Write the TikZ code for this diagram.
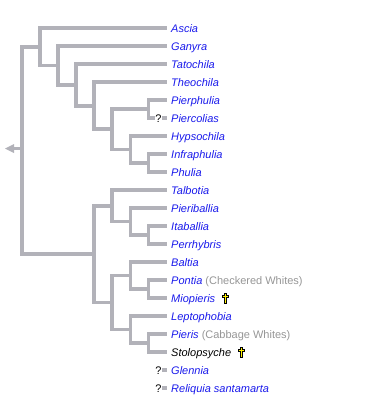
\documentclass[tikz,border=0pt]{standalone}
\usepackage{fontspec}
\setmainfont{Liberation Sans}
\usetikzlibrary{calc}
\definecolor{branch}{RGB}{178,178,185}
\definecolor{taxblue}{RGB}{25,25,235}
\definecolor{note}{RGB}{150,150,150}
\tikzset{
  br/.style={draw=branch, line width=3.8pt},
  leaf/.style={anchor=west, inner xsep=4pt, inner ysep=0pt, text height=8pt, text depth=0pt,
    font=\fontsize{11}{13}\selectfont\itshape, text=taxblue},
  qm/.style={inner xsep=0.6pt, inner ysep=0pt, text height=8pt, text depth=0pt,
    font=\fontsize{11}{13}\selectfont},
  extinct/.pic={\draw[fill=yellow, line width=0.5pt] (-0.9,-4.6) -- (0.9,-4.6) -- (0.9,-2.6) -- (2.8,-2.6) -- (2.8,-0.9) -- (0.9,-0.9) -- (0.9,5) -- (-0.9,5) -- (-0.9,-0.9) -- (-2.8,-0.9) -- (-2.8,-2.6) -- (-0.9,-2.6) -- cycle;}
}
\begin{document}
\begin{tikzpicture}[x=1pt,y=-1pt]
\useasboundingbox (0,0) rectangle (375,399);
% leaves
\node[leaf] (Ascia) at (167,28) {Ascia};
\node[leaf] (Ganyra) at (167,46) {Ganyra};
\node[leaf] (Tatochila) at (167,64) {Tatochila};
\node[leaf] (Theochila) at (167,82) {Theochila};
\node[leaf] (Pierphulia) at (167,100) {Pierphulia};
\node[leaf] (Piercolias) at (167,118) {Piercolias};
\node[qm] (q1) at (158.5,118) {?};
\node[leaf] (Hypsochila) at (167,136) {Hypsochila};
\node[leaf] (Infraphulia) at (167,154) {Infraphulia};
\node[leaf] (Phulia) at (167,172) {Phulia};
\node[leaf] (Talbotia) at (167,190) {Talbotia};
\node[leaf] (Pieriballia) at (167,208) {Pieriballia};
\node[leaf] (Itaballia) at (167,226) {Itaballia};
\node[leaf] (Perrhybris) at (167,244) {Perrhybris};
\node[leaf] (Baltia) at (167,262) {Baltia};
\node[leaf] (Pontia) at (167,280) {Pontia {\upshape\color{note} (Checkered Whites)}};
\node[leaf] (Miopieris) at (167,298) {Miopieris};
\node[leaf] (Leptophobia) at (167,316) {Leptophobia};
\node[leaf] (Pieris) at (167,334) {Pieris {\upshape\color{note} (Cabbage Whites)}};
\node[leaf, text=black] (Stolopsyche) at (167,352) {Stolopsyche};
\node[leaf] (Glennia) at (167,370) {Glennia};
\node[qm] (q2) at (158.5,370) {?};
\node[leaf] (Reliquia) at (167,388) {Reliquia santamarta};
\node[qm] (q3) at (158.5,388) {?};
% internal nodes
\coordinate (nPP) at (148.4,109);
\coordinate (nIP) at (148.4,163);
\coordinate (nHIP) at (130.4,149.5);
\coordinate (nPH) at (112.3,129.25);
\coordinate (nTheo) at (94.3,105.6);
\coordinate (nTato) at (76.2,84.8);
\coordinate (nGany) at (58.1,65.4);
\coordinate (nAsc) at (40.1,46.7);
\coordinate (nIta) at (148.4,235);
\coordinate (nPrb) at (130.4,221.5);
\coordinate (nTal) at (112.3,205.75);
\coordinate (nPon) at (148.4,289);
\coordinate (nBal) at (130.4,275.5);
\coordinate (nPie) at (148.4,343);
\coordinate (nLep) at (130.4,329.5);
\coordinate (nBL) at (112.3,302.5);
\coordinate (nBig) at (94.3,254.1);
\coordinate (root) at (22,148.5);
\coordinate (rootstub) at (14,148.5);
% branches
\foreach \p/\c in {root/nAsc, root/nBig,
  nAsc/Ascia.west, nAsc/nGany, nGany/Ganyra.west, nGany/nTato,
  nTato/Tatochila.west, nTato/nTheo, nTheo/Theochila.west, nTheo/nPH,
  nPH/nPP, nPH/nHIP, nPP/Pierphulia.west, nPP/q1.west,
  nHIP/Hypsochila.west, nHIP/nIP, nIP/Infraphulia.west, nIP/Phulia.west,
  nBig/nTal, nBig/nBL, nTal/Talbotia.west, nTal/nPrb,
  nPrb/Pieriballia.west, nPrb/nIta, nIta/Itaballia.west, nIta/Perrhybris.west,
  nBL/nBal, nBL/nLep, nBal/Baltia.west, nBal/nPon,
  nPon/Pontia.west, nPon/Miopieris.west, nLep/Leptophobia.west, nLep/nPie,
  nPie/Pieris.west, nPie/Stolopsyche.west}
  \draw[br] (\p) |- (\c);
\draw[br] (q1.east) -- (Piercolias.west);
\draw[br] (q2.east) -- (Glennia.west);
\draw[br] (q3.east) -- (Reliquia.west);
\draw[br] (rootstub) -- (root);
\fill[branch] ($(rootstub)+(-9,0)$) -- ($(rootstub)+(0,-4.5)$) -- ($(rootstub)+(0,4.5)$) -- cycle;
% extinct markers
\pic at ($(Miopieris.east)+(6,0.3)$) {extinct};
\pic at ($(Stolopsyche.east)+(6,0.3)$) {extinct};
\end{tikzpicture}
\end{document}
